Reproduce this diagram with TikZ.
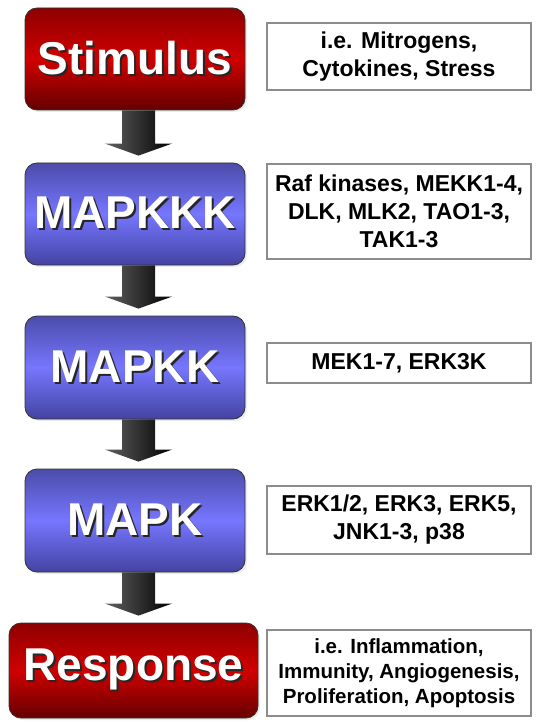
\documentclass[tikz,border=0pt]{standalone}
\usepackage{fontspec}
\setmainfont{Liberation Sans}
\usetikzlibrary{calc,shadows}

\definecolor{redtop}{HTML}{8E0000}
\definecolor{redmid}{HTML}{D00000}
\definecolor{redbot}{HTML}{650000}
\definecolor{bluetop}{HTML}{4C4CAA}
\definecolor{bluemid}{HTML}{7676FF}
\definecolor{bluebot}{HTML}{4343A2}

% white lettering with a dark offset shadow
\newcommand\embossed[1]{\leavevmode\rlap{\hspace{2pt}\raisebox{-2pt}{\color{black!85}#1}}\color{white}#1}

% thick block arrow from the bottom of one stage to just above the next
\newcommand\flowarrow[2]{%
  \shade[arrowbody] let \p1=(#1.south), \p2=(#2.north) in
    (\x1-13pt,\y1) -- (\x1+20pt,\y1) -- (\x1+20pt,\y2+19pt) -- (\x1+37pt,\y2+19pt)
    -- (\x1+3.5pt,\y2+7pt) -- (\x1-30pt,\y2+19pt) -- (\x1-13pt,\y2+19pt) -- cycle;}

\tikzset{
  stage/.style={rounded corners=12pt, draw=black!80, line width=0.8pt,
    minimum width=220pt, minimum height=102pt, inner sep=0pt,
    font=\fontsize{46}{50}\selectfont\bfseries,
    drop shadow={opacity=0.15, shadow xshift=2pt, shadow yshift=-2pt}},
  redstage/.style={stage, top color=redtop, bottom color=redbot, middle color=redmid},
  bluestage/.style={stage, top color=bluetop, bottom color=bluebot, middle color=bluemid},
  note/.style={draw=black!45, line width=1.4pt, fill=white, minimum width=264pt,
    inner sep=0pt, align=center, font=\fontsize{23}{28}\selectfont\bfseries},
  smallnote/.style={note, font=\fontsize{20.5}{25}\selectfont\bfseries},
  arrowbody/.style={left color=black!62, right color=black, draw=none}
}

\begin{document}
\begin{tikzpicture}
  \fill[white] (0,0) rectangle (535pt,-722pt);
  \useasboundingbox (0,0) rectangle (535pt,-722pt);

  % cascade stages
  \node[redstage]  (stim)   at (135pt,-59pt)    {\embossed{Stimulus}};
  \node[bluestage] (mkkk)   at (135pt,-214pt)   {\embossed{MAPKKK}};
  \node[bluestage, minimum height=103pt] (mkk) at (135pt,-367.5pt) {\embossed{MAPKK}};
  \node[bluestage, minimum height=103pt] (mk)  at (135pt,-520.5pt) {\embossed{MAPK}};
  \node[redstage, minimum width=249pt, minimum height=95pt] (resp) at (133.5pt,-670.5pt) {\embossed{Response}};

  % arrows between stages
  \flowarrow{stim}{mkkk}
  \flowarrow{mkkk}{mkk}
  \flowarrow{mkk}{mk}
  \flowarrow{mk}{resp}

  % examples for each stage
  \node[note, minimum height=67pt] (n1) at (399pt,-56.5pt)
    {i.e. Mitrogens,\\Cytokines, Stress};
  \node[note, minimum height=95pt] (n2) at (399pt,-211.5pt)
    {Raf kinases, MEKK1-4,\\DLK, MLK2, TAO1-3,\\TAK1-3};
  \node[note, minimum height=40pt] (n3) at (399pt,-363pt)
    {MEK1-7, ERK3K};
  \node[note, minimum height=68pt] (n4) at (399pt,-520pt)
    {ERK1/2, ERK3, ERK5,\\JNK1-3, p38};
  \node[smallnote, minimum height=86pt] (n5) at (399pt,-673pt)
    {i.e. Inflammation,\\Immunity, Angiogenesis,\\Proliferation, Apoptosis};
\end{tikzpicture}
\end{document}
